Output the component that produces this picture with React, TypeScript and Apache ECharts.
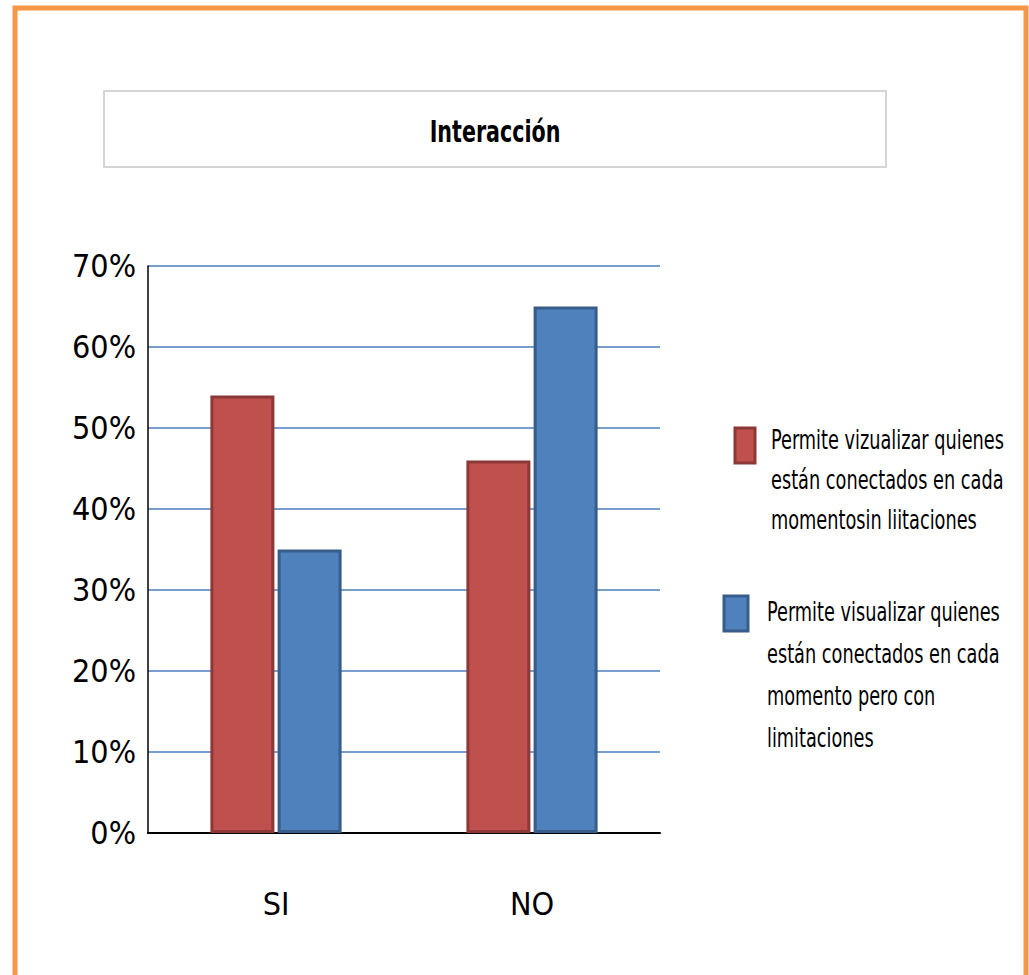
import React, { useEffect, useRef } from "react";
import * as echarts from "echarts";

const categories = ["SI", "NO"];
const seriesNames = [
  "Permite vizualizar quienes están conectados en cada momentosin liitaciones",
  "Permite visualizar quienes están conectados en cada momento pero con limitaciones",
];
const redValues = [54, 46];
const blueValues = [35, 65];
const yTicks = [0, 10, 20, 30, 40, 50, 60, 70];
const legendLines1 = ["Permite vizualizar quienes", "están conectados en cada", "momentosin liitaciones"];
const legendLines2 = ["Permite visualizar quienes", "están conectados en cada", "momento pero con", "limitaciones"];
const titleText = "Interacción";

const FONT = "'Liberation Sans Narrow', 'DejaVu Sans Condensed', 'Open Sans', sans-serif";

export default function App() {
  const ref = useRef<HTMLDivElement>(null);
  useEffect(() => {
    document.body.style.margin = "0";
    if (!ref.current) return;
    const chart = echarts.init(ref.current, null, { renderer: "svg" });
    chart.setOption({
      animation: false,
      backgroundColor: "#ffffff",
      textStyle: { fontFamily: FONT },
      grid: { left: 148, top: 266, width: 512, bottom: 142, containLabel: false },
      xAxis: {
        type: "category",
        data: categories,
        axisLine: { show: true, lineStyle: { color: "#000", width: 2 } },
        axisTick: { show: false },
        axisLabel: { fontFamily: FONT, fontSize: 32, color: "#000", margin: 55 },
      },
      yAxis: {
        type: "value",
        min: yTicks[0],
        max: yTicks[yTicks.length - 1],
        interval: 10,
        axisLine: { show: true, lineStyle: { color: "#000", width: 1.5 } },
        axisTick: { show: false },
        axisLabel: { fontFamily: FONT, fontSize: 32, color: "#000", margin: 12, formatter: "{value}%" },
        splitLine: { show: true, lineStyle: { color: "#4A7EBB", width: 1.5 } },
      },
      series: [
        {
          name: seriesNames[0],
          type: "bar",
          data: redValues,
          barWidth: 64,
          barGap: "5%",
          itemStyle: { color: "#C0504D", borderColor: "#8C3836", borderWidth: 3 },
        },
        {
          name: seriesNames[1],
          type: "bar",
          data: blueValues,
          barWidth: 64,
          barGap: "5%",
          itemStyle: { color: "#4F81BD", borderColor: "#385D8A", borderWidth: 3 },
        },
      ],
      graphic: [
        {
          type: "rect",
          shape: { x: 15, y: 8, width: 1011, height: 1000 },
          style: { fill: "none", stroke: "#F79646", lineWidth: 5 },
          silent: true,
        },
        {
          type: "rect",
          shape: { x: 104, y: 91, width: 782, height: 76 },
          style: { fill: "#fff", stroke: "#C8C8C8", lineWidth: 1.5 },
        },
        {
          type: "text",
          x: 495,
          y: 131,
          scaleX: 0.74,
          style: {
            text: titleText,
            font: `bold 31px ${FONT}`,
            fill: "#000",
            textAlign: "center",
            textVerticalAlign: "middle",
          },
        },
        {
          type: "rect",
          shape: { x: 735, y: 428, width: 20, height: 35 },
          style: { fill: "#C0504D", stroke: "#8C3836", lineWidth: 3 },
        },
        {
          type: "text",
          x: 771,
          y: 420,
          scaleX: 0.73,
          style: {
            text: legendLines1.join("\n"),
            font: `27px ${FONT}`,
            lineHeight: 40,
            fill: "#000",
          },
        },
        {
          type: "rect",
          shape: { x: 724, y: 596, width: 24, height: 35 },
          style: { fill: "#4F81BD", stroke: "#385D8A", lineWidth: 3 },
        },
        {
          type: "text",
          x: 767,
          y: 591,
          scaleX: 0.73,
          style: {
            text: legendLines2.join("\n"),
            font: `27px ${FONT}`,
            lineHeight: 42,
            fill: "#000",
          },
        },
      ],
    });
    return () => chart.dispose();
  }, []);
  return <div ref={ref} style={{ width: 1029, height: 975 }} />;
}
